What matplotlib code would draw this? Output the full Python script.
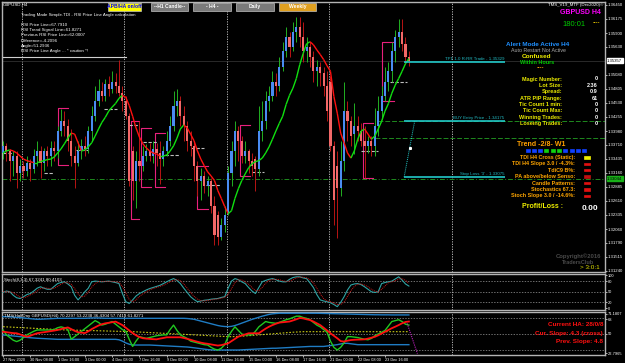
import numpy as np
import matplotlib
matplotlib.use("Agg")
import matplotlib.pyplot as plt
from matplotlib.collections import LineCollection
from matplotlib.patches import Rectangle

plt.rcParams["font.family"] = ["Liberation Sans", "DejaVu Sans"]

# -------------------------
# Data (GBPUSD H4, 27 Nov - 24 Dec 2020)
# -------------------------

opens = [1.3355, 1.3369, 1.3359, 1.3340, 1.3349, 1.3316, 1.3330, 1.3320, 1.3336, 1.3324,
         1.3349, 1.3359, 1.3336, 1.3359, 1.3349, 1.3365, 1.3359, 1.3398, 1.3417, 1.3408,
         1.3379, 1.3349, 1.3336, 1.3359, 1.3369, 1.3363, 1.3398, 1.3427, 1.3456, 1.3476,
         1.3466, 1.3491, 1.3480, 1.3495, 1.3486, 1.3472, 1.3456, 1.3427, 1.3359, 1.3301,
         1.3340, 1.3330, 1.3349, 1.3359, 1.3349, 1.3363, 1.3355, 1.3343, 1.3359, 1.3379,
         1.3408, 1.3447, 1.3456, 1.3427, 1.3408, 1.3379, 1.3369, 1.3330, 1.3301, 1.3310,
         1.3291, 1.3301, 1.3252, 1.3233, 1.3190, 1.3213, 1.3236, 1.3316, 1.3359, 1.3398,
         1.3379, 1.3349, 1.3359, 1.3340, 1.3343, 1.3324, 1.3398, 1.3417, 1.3456, 1.3466,
         1.3495, 1.3486, 1.3524, 1.3554, 1.3583, 1.3563, 1.3592, 1.3602, 1.3583, 1.3554,
         1.3563, 1.3544, 1.3515, 1.3524, 1.3511, 1.3486, 1.3495, 1.3369, 1.3330, 1.3287,
         1.3340, 1.3437, 1.3417, 1.3392, 1.3408, 1.3398, 1.3379, 1.3369, 1.3379, 1.3369,
         1.3408, 1.3437, 1.3466, 1.3495, 1.3515, 1.3554, 1.3583, 1.3592, 1.3569, 1.3544]
highs = [1.3379, 1.3375, 1.3363, 1.3359, 1.3359, 1.3343, 1.3340, 1.3349, 1.3343, 1.3363,
         1.3379, 1.3369, 1.3365, 1.3369, 1.3379, 1.3379, 1.3408, 1.3441, 1.3437, 1.3421,
         1.3402, 1.3369, 1.3379, 1.3382, 1.3388, 1.3408, 1.3447, 1.3486, 1.3499, 1.3495,
         1.3499, 1.3505, 1.3515, 1.3511, 1.3538, 1.3486, 1.3466, 1.3433, 1.3369, 1.3359,
         1.3417, 1.3369, 1.3373, 1.3375, 1.3379, 1.3375, 1.3379, 1.3369, 1.3398, 1.3427,
         1.3476, 1.3480, 1.3466, 1.3447, 1.3417, 1.3398, 1.3379, 1.3340, 1.3326, 1.3320,
         1.3310, 1.3305, 1.3271, 1.3242, 1.3227, 1.3252, 1.3330, 1.3379, 1.3417, 1.3408,
         1.3388, 1.3379, 1.3363, 1.3355, 1.3349, 1.3447, 1.3456, 1.3476, 1.3486, 1.3515,
         1.3511, 1.3544, 1.3573, 1.3602, 1.3592, 1.3612, 1.3622, 1.3622, 1.3612, 1.3583,
         1.3573, 1.3554, 1.3538, 1.3534, 1.3524, 1.3515, 1.3505, 1.3379, 1.3359, 1.3379,
         1.3495, 1.3456, 1.3427, 1.3452, 1.3427, 1.3413, 1.3408, 1.3388, 1.3388, 1.3443,
         1.3466, 1.3486, 1.3524, 1.3534, 1.3573, 1.3596, 1.3618, 1.3618, 1.3583, 1.3554]
lows = [1.3343, 1.3340, 1.3301, 1.3310, 1.3287, 1.3301, 1.3305, 1.3310, 1.3301, 1.3316,
        1.3330, 1.3305, 1.3320, 1.3330, 1.3330, 1.3340, 1.3345, 1.3388, 1.3388, 1.3359,
        1.3330, 1.3287, 1.3330, 1.3343, 1.3349, 1.3355, 1.3379, 1.3417, 1.3447, 1.3456,
        1.3456, 1.3466, 1.3472, 1.3472, 1.3466, 1.3437, 1.3421, 1.3291, 1.3262, 1.3248,
        1.3301, 1.3320, 1.3340, 1.3340, 1.3336, 1.3330, 1.3295, 1.3330, 1.3349, 1.3369,
        1.3398, 1.3427, 1.3408, 1.3379, 1.3359, 1.3349, 1.3301, 1.3271, 1.3262, 1.3277,
        1.3271, 1.3238, 1.3174, 1.3174, 1.3184, 1.3200, 1.3233, 1.3291, 1.3330, 1.3340,
        1.3336, 1.3336, 1.3316, 1.3310, 1.3281, 1.3310, 1.3379, 1.3402, 1.3437, 1.3456,
        1.3466, 1.3476, 1.3515, 1.3544, 1.3544, 1.3554, 1.3573, 1.3563, 1.3534, 1.3534,
        1.3524, 1.3495, 1.3486, 1.3486, 1.3466, 1.3417, 1.3359, 1.3213, 1.3188, 1.3271,
        1.3320, 1.3379, 1.3369, 1.3353, 1.3379, 1.3369, 1.3305, 1.3355, 1.3349, 1.3349,
        1.3388, 1.3421, 1.3456, 1.3476, 1.3495, 1.3534, 1.3563, 1.3554, 1.3530, 1.3526]
closes = [1.3369, 1.3359, 1.3340, 1.3349, 1.3316, 1.3330, 1.3320, 1.3336, 1.3324, 1.3349,
          1.3359, 1.3336, 1.3359, 1.3349, 1.3365, 1.3359, 1.3398, 1.3417, 1.3408, 1.3379,
          1.3349, 1.3336, 1.3359, 1.3369, 1.3363, 1.3398, 1.3427, 1.3456, 1.3476, 1.3466,
          1.3491, 1.3480, 1.3495, 1.3486, 1.3472, 1.3456, 1.3427, 1.3301, 1.3301, 1.3340,
          1.3330, 1.3349, 1.3359, 1.3349, 1.3363, 1.3355, 1.3343, 1.3359, 1.3379, 1.3408,
          1.3447, 1.3456, 1.3427, 1.3408, 1.3379, 1.3369, 1.3330, 1.3301, 1.3310, 1.3291,
          1.3301, 1.3252, 1.3194, 1.3190, 1.3213, 1.3233, 1.3316, 1.3359, 1.3398, 1.3379,
          1.3349, 1.3359, 1.3340, 1.3330, 1.3324, 1.3398, 1.3417, 1.3456, 1.3466, 1.3495,
          1.3486, 1.3524, 1.3554, 1.3583, 1.3563, 1.3592, 1.3602, 1.3583, 1.3554, 1.3563,
          1.3544, 1.3515, 1.3524, 1.3511, 1.3486, 1.3437, 1.3369, 1.3262, 1.3287, 1.3340,
          1.3437, 1.3417, 1.3388, 1.3408, 1.3398, 1.3379, 1.3369, 1.3379, 1.3369, 1.3408,
          1.3437, 1.3466, 1.3495, 1.3515, 1.3554, 1.3583, 1.3592, 1.3569, 1.3544, 1.3536]

# trend line (green up / red down)
trend_line = [1.3355, 1.3359, 1.3361, 1.3359, 1.3355, 1.3349, 1.3343, 1.3340, 1.3338, 1.3336,
              1.3336, 1.3338, 1.3340, 1.3342, 1.3343, 1.3347, 1.3355, 1.3363, 1.3373, 1.3384,
              1.3394, 1.3392, 1.3375, 1.3359, 1.3361, 1.3367, 1.3375, 1.3388, 1.3402, 1.3415,
              1.3425, 1.3437, 1.3445, 1.3452, 1.3462, 1.3468, 1.3464, 1.3448, 1.3427, 1.3404,
              1.3386, 1.3373, 1.3365, 1.3359, 1.3355, 1.3353, 1.3349, 1.3349, 1.3351, 1.3359,
              1.3369, 1.3384, 1.3402, 1.3410, 1.3404, 1.3392, 1.3379, 1.3359, 1.3343, 1.3330,
              1.3318, 1.3310, 1.3301, 1.3281, 1.3266, 1.3250, 1.3236, 1.3242, 1.3266, 1.3285,
              1.3301, 1.3314, 1.3326, 1.3334, 1.3338, 1.3340, 1.3345, 1.3355, 1.3367, 1.3382,
              1.3398, 1.3413, 1.3427, 1.3450, 1.3468, 1.3482, 1.3501, 1.3528, 1.3550, 1.3569,
              1.3573, 1.3567, 1.3557, 1.3548, 1.3538, 1.3526, 1.3515, 1.3466, 1.3433, 1.3394,
              1.3375, 1.3355, 1.3345, 1.3359, 1.3382, 1.3398, 1.3402, 1.3392, 1.3382, 1.3388,
              1.3402, 1.3417, 1.3437, 1.3452, 1.3472, 1.3488, 1.3501, 1.3515, 1.3530, 1.3540]

stoch_main = [48, 52, 50, 40, 33, 31, 36, 42, 45, 52, 60, 64, 60, 57, 57, 65, 73, 76, 78, 72,
              64, 40, 27, 38, 50, 60, 78, 80, 79, 78, 79, 80, 78, 76, 73, 45, 22, 17, 27, 38,
              45, 50, 55, 59, 62, 65, 68, 73, 78, 83, 87, 82, 73, 60, 48, 36, 28, 22, 24, 26,
              27, 29, 30, 31, 34, 36, 60, 80, 87, 84, 78, 73, 62, 52, 45, 62, 78, 82, 85, 87,
              84, 80, 78, 78, 85, 90, 92, 92, 89, 87, 75, 62, 42, 27, 24, 22, 19, 14, 8, 20,
              36, 55, 69, 72, 73, 70, 64, 57, 50, 48, 50, 73, 76, 78, 80, 86, 92, 83, 72, 66]
stoch_signal = [50, 50, 50, 47, 41, 35, 33, 36, 41, 46, 52, 59, 61, 60, 58, 60, 65, 71, 76, 75,
                71, 59, 44, 35, 38, 49, 63, 73, 79, 79, 79, 79, 79, 78, 76, 65, 47, 28, 22, 27,
                37, 44, 50, 55, 59, 62, 65, 68, 73, 78, 83, 84, 81, 72, 60, 48, 37, 29, 25, 24,
                26, 27, 29, 30, 32, 34, 43, 59, 76, 84, 83, 78, 71, 62, 53, 53, 62, 74, 82, 85,
                85, 84, 81, 79, 80, 84, 89, 91, 91, 89, 84, 75, 60, 44, 31, 24, 22, 18, 14, 14,
                21, 37, 53, 65, 71, 72, 69, 64, 57, 52, 49, 57, 66, 76, 78, 81, 86, 87, 82, 74]

tdi_upper = [69.5, 69.4, 69.2, 69.0, 68.7, 68.4, 68.0, 67.6, 67.2, 66.8,
             66.5, 66.6, 66.8, 67.0, 67.2, 67.4, 67.6, 67.6, 67.6, 67.6,
             67.6, 67.6, 67.6, 67.6, 67.6, 67.8, 68.0, 68.0, 68.0, 67.8,
             67.6, 67.6, 67.6, 67.6, 67.6, 67.6, 67.6, 67.6, 67.6, 67.6,
             67.6, 67.6, 67.6, 67.6, 67.6, 67.6, 67.6, 67.6, 67.6, 67.6,
             67.6, 67.6, 67.6, 67.6, 67.4, 67.0, 66.5, 65.5, 64.5, 63.5,
             62.5, 61.5, 60.5, 59.5, 58.8, 58.4, 58.2, 58.6, 59.5, 60.8,
             62.2, 63.6, 65.0, 66.4, 67.6, 68.8, 70.0, 71.0, 72.0, 72.6,
             73.0, 73.3, 73.3, 73.3, 73.3, 73.3, 73.3, 73.3, 73.3, 73.3,
             73.3, 73.3, 73.3, 73.2, 73.1, 73.0, 72.9, 72.8, 72.7, 72.6,
             72.5, 72.4, 72.3, 72.2, 72.1, 72.0, 71.9, 71.8, 71.7, 71.6,
             71.6, 71.5, 71.5, 71.5, 71.4, 71.4, 71.4, 71.4, 71.4, 71.4]
tdi_lower = [48.9, 48.6, 48.2, 47.8, 47.4, 47.0, 46.6, 46.2, 45.8, 45.5,
             45.2, 45.0, 44.8, 44.6, 44.4, 44.2, 44.0, 44.0, 44.0, 44.0,
             44.0, 44.0, 44.0, 44.0, 44.0, 44.0, 44.0, 44.0, 44.0, 44.0,
             44.0, 44.0, 44.0, 44.0, 43.5, 42.0, 40.0, 38.5, 37.6, 37.6,
             37.6, 37.6, 37.6, 37.6, 37.4, 37.2, 37.0, 36.8, 36.6, 36.4,
             36.2, 36.0, 35.8, 35.6, 35.4, 35.0, 34.5, 34.0, 33.5, 33.0,
             32.5, 32.2, 32.0, 32.0, 32.0, 32.0, 32.0, 32.0, 32.0, 32.0,
             32.2, 32.4, 32.6, 32.8, 33.0, 33.2, 33.4, 33.6, 33.8, 34.0,
             34.0, 34.2, 34.4, 34.6, 34.8, 35.0, 35.2, 35.4, 35.6, 35.8,
             36.0, 36.0, 36.0, 36.0, 36.0, 36.5, 37.0, 37.5, 38.0, 38.8,
             39.5, 39.5, 39.0, 38.5, 38.0, 38.0, 38.0, 38.0, 38.0, 38.0,
             38.0, 38.0, 38.0, 38.0, 38.0, 38.0, 38.0, 38.0, 38.0, 38.0]
tdi_mid = [58.2, 58.0, 57.8, 57.6, 57.4, 57.2, 57.0, 56.8, 56.6, 56.4,
           56.2, 56.0, 55.8, 55.6, 55.4, 55.2, 55.0, 54.8, 54.6, 54.5,
           54.4, 54.3, 54.2, 54.1, 54.0, 53.9, 53.8, 53.7, 53.6, 53.5,
           53.4, 53.3, 53.2, 53.1, 53.0, 52.9, 52.8, 52.7, 52.6, 52.4,
           52.2, 52.0, 51.8, 51.6, 51.4, 51.2, 51.0, 50.8, 50.6, 50.4,
           50.2, 50.0, 49.8, 49.6, 49.4, 49.2, 49.0, 48.8, 48.6, 48.4,
           48.2, 48.0, 47.8, 47.6, 47.4, 47.2, 47.0, 47.0, 47.1, 47.3,
           47.5, 47.8, 48.1, 48.4, 48.7, 49.0, 49.3, 49.6, 49.9, 50.2,
           50.5, 50.8, 51.1, 51.4, 51.7, 52.0, 52.2, 52.4, 52.6, 52.6,
           52.6, 52.6, 52.6, 52.6, 52.6, 52.6, 52.6, 52.6, 52.6, 52.6,
           52.6, 52.6, 52.6, 52.6, 52.6, 52.6, 52.6, 52.6, 52.6, 52.6,
           52.6, 52.6, 52.6, 52.6, 52.6, 52.6, 52.6, 52.6, 52.6, 52.6]
tdi_rsi = [54.5, 49, 46, 43, 41.5, 43, 46, 49, 51, 53, 54.5, 54.5, 54.5, 54.5, 54.5, 55, 57, 58, 57, 55,
           44, 47, 50, 53, 56, 59, 62, 65, 63, 60, 61, 62.5, 64, 61, 58, 55, 53, 44, 36, 42,
           47, 46, 45, 46, 47, 48, 48.5, 49, 49, 55, 60, 54, 49, 47, 45, 42, 41, 40, 39, 38,
           37.6, 35, 33, 32, 34, 38, 47, 53, 58, 54, 50, 49, 49, 49, 53, 58, 61, 64, 63, 62.5,
           62, 63, 64.5, 66, 67, 68.5, 70, 70, 68.5, 67.6, 66, 63, 60, 58, 55, 52, 42, 35, 32, 35,
           40, 47, 47, 46.5, 46, 45, 44, 43.5, 45, 48, 50, 52, 54, 59, 64, 65, 66, 64, 61, 60]
tdi_signal = [52.6, 52, 51.5, 51, 50.8, 49.5, 48, 47, 48, 49.5, 50.8, 51.5, 52, 52.6, 53.2, 53.8, 54.5, 55.5, 56.5, 57.4,
              55.5, 53.5, 52, 51.5, 51, 53, 55.5, 57.5, 59.5, 61, 62, 62.6, 63.2, 63.9, 62, 60, 57, 54, 51, 48.5,
              46.5, 45.2, 44.8, 44.5, 44.2, 44, 44.8, 45.5, 46.3, 46.3, 46.3, 46.3, 46.3, 45.5, 44.5, 43.5, 42.3, 41.3, 40.3, 39.5,
              39, 38.3, 37.6, 37, 37.5, 38.5, 39.5, 42, 44.5, 47, 48.3, 49.5, 50.8, 50.8, 50.8, 50.8, 53.5, 56, 58.2, 60,
              61.5, 62.8, 63.2, 63.6, 64, 65.2, 66.5, 68, 67.5, 66.5, 65.7, 64, 62, 60, 57, 54, 50.8, 48, 45.2, 42,
              41.5, 42.5, 43.2, 43.5, 43.7, 43.8, 44, 44.8, 45.8, 46.8, 48.5, 50.5, 52.5, 54.5, 56.5, 58.2, 60, 62, 63.5, 64]

price_ticks = [1.36450, 1.36175, 1.35900, 1.35630, 1.35080, 1.34805, 1.34530, 1.34255, 1.33980,
               1.33710, 1.33435, 1.33160, 1.32885, 1.32610, 1.32335, 1.32060, 1.31790, 1.31515, 1.31240]
time_labels = ["27 Nov 2020", "30 Nov 08:00", "1 Dec 16:00", "3 Dec 00:00", "4 Dec 08:00",
               "7 Dec 16:00", "9 Dec 00:00", "10 Dec 08:00", "11 Dec 16:00", "15 Dec 00:00",
               "16 Dec 08:00", "17 Dec 16:00", "21 Dec 00:00", "22 Dec 08:00", "23 Dec 16:00"]
week_starts = [6, 36, 66, 96, 132]

# range brackets: (first bar, last bar, top, bottom)
brackets = [(16, 19, 1.3443, 1.3332), (37.5, 40, 1.3417, 1.3225), (40.5, 43.5, 1.3404, 1.3289),
            (44.5, 47.5, 1.3394, 1.3289), (57, 60, 1.3330, 1.3246), (69.5, 72.5, 1.3410, 1.3310),
            (105.5, 108.5, 1.3413, 1.3305), (111, 114.5, 1.3573, 1.3456)]
# short grey marks: (first bar, last bar, price)
grey_marks = [(0, 3, 1.3355), (12, 15, 1.3316), (21.5, 25, 1.3361), (29.5, 33.5, 1.3441),
              (37, 40, 1.3410), (41, 45, 1.3377), (47.5, 51.5, 1.3351), (55, 59, 1.3365),
              (59.5, 63.5, 1.3292), (73, 76.5, 1.3318), (113.5, 118.5, 1.3495), (105, 110, 1.3359)]

tp_price, entry_price, stop_price = 1.35329, 1.34175, 1.33075
last_price, stop_mark = 1.35357, 1.33044

# -------------------------
# Layout helpers
# -------------------------

W, H = 625, 363
BG = "#000000"
GRID = "#b4b4b4"
TICK = 3.1


def fx(px):
    return px / W


def fy(py):
    return 1 - py / H


fig = plt.figure(figsize=(6.25, 3.63), dpi=100, facecolor=BG)
ax = fig.add_axes([fx(2), fy(272), 603 / W, 270 / H])
ax_st = fig.add_axes([fx(2), fy(309.5), 603 / W, 35.5 / H])
ax_tdi = fig.add_axes([fx(2), fy(355), 603 / W, 43 / H])

xmin, xmax = -0.3, 176.5
for a in (ax, ax_st, ax_tdi):
    a.set_facecolor(BG)
    a.set_xlim(xmin, xmax)
    for s in a.spines.values():
        s.set_color(GRID)
        s.set_linewidth(1.0)
    a.yaxis.tick_right()
    a.tick_params(axis="y", colors="white", labelsize=TICK, length=1.5, width=0.5, pad=0.6)
    a.tick_params(axis="x", colors="white", labelsize=TICK, length=1.5, width=0.5, pad=0.6)
    a.set_xticks([])
    for w in week_starts:
        a.axvline(w - 0.45, color="#c8c8c8", lw=0.6, ls=(0, (1.5, 1.5)), zorder=1)

# -------------------------
# Price panel
# -------------------------

o, h, l, c = map(np.array, (opens, highs, lows, closes))
idx = np.arange(len(c))
bull = c >= o
ax.vlines(idx[bull], l[bull], h[bull], color="#22b022", lw=0.7, zorder=3)
ax.vlines(idx[~bull], l[~bull], h[~bull], color="#b81414", lw=0.7, zorder=3)
ax.bar(idx[bull], (c - o)[bull], bottom=o[bull], width=0.62, color="#4a8cf2", zorder=4)
ax.bar(idx[~bull], (c - o)[~bull], bottom=o[~bull], width=0.62, color="#f26868", zorder=4)

tl = np.array(trend_line)
segs = [[(i - 1, tl[i - 1]), (i, tl[i])] for i in range(1, len(tl))]
cols = ["#10e010" if tl[i] >= tl[i - 1] else "#ff1010" for i in range(1, len(tl))]
ax.add_collection(LineCollection(segs, colors=cols, linewidths=1.0, zorder=5))

for b0, b1, top, bot in brackets:
    ax.plot([b1, b0, b0, b1], [top, top, bot, bot], color="#e8207c", lw=0.8, zorder=2)
for b0, b1, p in grey_marks:
    ax.hlines(p, b0, b1, color="#bdbdbd", lw=0.8, ls=(0, (3, 1.5)), zorder=2)

# horizontal levels
ax.axhline(last_price, color="#3a3a3a", lw=0.5, zorder=1)
ax.axhline(stop_mark, color="#1e8a1e", lw=0.7, ls=(0, (5, 2, 1, 2)), zorder=1)
ax.hlines(1.3385, 109, xmax, color="#1e8a1e", lw=0.7, ls=(0, (5, 2)), zorder=1)
ax.hlines(entry_price, 110, xmax, color="#1e8a1e", lw=0.7, ls=(0, (5, 2)), zorder=1)

# trade lines
for p, txt in [(tp_price, "TP1 1.0 R:RR Trade - 1.35329"),
               (entry_price, "BUY Entry Price - 1.34175"),
               (stop_price, "Stop Loss '3' - 1.33075")]:
    ax.hlines(p, 117.6, 147.2, color="#22c8c8", lw=1.2, zorder=6)
    ax.text(147.0, p + 0.0003, txt, color="#22b8c0", fontsize=3.2, ha="right", va="bottom", zorder=7)
ax.plot([117.6, 120.7], [stop_price, entry_price], color="#22c8c8", lw=0.7, ls=(0, (1, 1)), zorder=6)
ax.plot([119.2], [1.3365], marker="s", ms=1.2, color="white", zorder=7)

ax.set_ylim(1.31218, 1.36508)
ax.set_yticks(price_ticks)
ax.set_yticklabels([f"{p:.5f}" for p in price_ticks])
for p, fc in [(last_price, "white"), (stop_mark, "#18b018")]:
    ax.text(1.0035, (p - 1.31218) / (1.36508 - 1.31218), f"{p:.5f}",
            transform=ax.transAxes, fontsize=TICK, color="black", va="center", ha="left",
            bbox=dict(boxstyle="square,pad=0.12", fc=fc, ec=fc), zorder=8)

# -------------------------
# Stochastic panel
# -------------------------

ax_st.plot(idx, stoch_main, color="#2ea4a4", lw=0.8, zorder=3)
ax_st.plot(idx, stoch_signal, color="#d01818", lw=0.7, ls=(0, (1, 1)), zorder=3)
for lv in (80, 50, 20):
    ax_st.axhline(lv, color="#9a9a9a", lw=0.5, ls=(0, (2, 2)), zorder=1)
ax_st.set_ylim(0, 100)
ax_st.set_yticks([96, 80, 50, 20, 4])
ax_st.set_yticklabels(["100", "80", "50", "20", "0"])
ax_st.tick_params(axis="y", labelsize=2.9)
ax_st.text(0.004, 0.9, "Stoch(8,3,3) 67.3241 80.4103", transform=ax_st.transAxes,
           color="white", fontsize=3.2, va="top")

# -------------------------
# TDI panel
# -------------------------

ax_tdi.plot(idx, tdi_upper, color="#1f7cc4", lw=1.0, zorder=3)
ax_tdi.plot(idx, tdi_lower, color="#1f7cc4", lw=1.0, zorder=3)
ax_tdi.plot(idx, tdi_mid, color="#c8c814", lw=0.8, ls=(0, (1.5, 1.5)), zorder=3)
ax_tdi.plot(idx, tdi_rsi, color="#20c820", lw=1.0, zorder=4)
ax_tdi.plot(idx, tdi_signal, color="#ff1010", lw=1.3, zorder=5)
ax_tdi.plot([118.5, 121.5], [61.8, 28.0], color="#c020c0", lw=0.8, ls=(0, (1, 1)), zorder=5)
for lv in (68, 50, 32):
    ax_tdi.axhline(lv, color="#9a9a9a", lw=0.5, ls=(0, (2, 2)), zorder=1)
ax_tdi.set_ylim(26.4, 74.7)
ax_tdi.set_yticks([72.8, 66.5, 50, 28.6])
ax_tdi.set_yticklabels(["71.1807", "68", "50", "22.7965"])
ax_tdi.tick_params(axis="y", labelsize=2.9)
ax_tdi.text(0.004, 0.96, "TMS(HalfDay GBPUSD(H4) 70.2297 53.2238 36.4304 57.7413 61.8271",
            transform=ax_tdi.transAxes, color="white", fontsize=3.2, va="top")
ax_tdi.set_xticks(np.arange(0, 8 * len(time_labels), 8))
ax_tdi.set_xticklabels(time_labels, ha="left")
ax_tdi.tick_params(axis="x", labelsize=2.8)

# -------------------------
# Overlay texts
# -------------------------


def ftext(x, y, s, color="white", size=4, ha="left", weight="normal"):
    fig.text(fx(x), fy(y), s, color=color, fontsize=size, ha=ha, va="center", fontweight=weight)


def fbox(x0, y0, x1, y1, fc, ec=None):
    fig.patches.append(Rectangle((fx(x0), fy(y1)), (x1 - x0) / W, (y1 - y0) / H,
                                 transform=fig.transFigure, facecolor=fc,
                                 edgecolor=ec if ec else fc, lw=0.5))


ftext(3, 4.5, "GBPUSD,H4", size=3.2)
buttons = [(108, 141, "APB/HA on/off", "#ffff00", "#0000ff"),
           (151, 188, "--H1 Candle--", "#7a7a7a", "white"),
           (193, 231, "- H4 -", "#7a7a7a", "white"),
           (236, 274, "Daily", "#7a7a7a", "white"),
           (279, 316, "Weekly", "#e0a020", "white")]
for x0, x1, s, fc, tc in buttons:
    fbox(x0, 2.5, x1, 10.5, fc, "#c0c0c0")
    ftext((x0 + x1) / 2, 6.5, s, color=tc, size=3.6, ha="center", weight="bold")

info = [(15, "Trading Made Simple.TDI - RSI Price Line Angle calculation"),
        (25, "RSI Price Line=67.7910"), (30, "RSI Trend Signal Line=61.8271"),
        (35, "Previous RSI Price Line=62.0007"), (40.5, "Difference=-4.2096"),
        (46, "Angle=51.2936"), (51, "RSI Price Line Angle ... * caution *!")]
for y, s in info:
    ftext(21, y, s, size=3.2)
fig.add_artist(plt.Line2D([fx(3), fx(126)], [fy(57), fy(57)], color="#d0d0d0", lw=0.8))

ftext(603, 5, "TMS_V19_MTF (Dec2020)\u00a9", size=3.2, ha="right")
ftext(601, 12.5, "GBPUSD H4", color="#ff00ff", size=5, ha="right", weight="bold")
ftext(574, 24, "180:01", color="#00c800", size=5.5, ha="center")
ftext(597, 23, "----", color="#e0c000", size=4, ha="center", weight="bold")
ftext(538, 44, "Alert Mode Active H4", color="#2090ff", size=4.6, ha="center", weight="bold")
ftext(538, 50, "Auto Restart Not Active", color="#a8a8a8", size=3.8, ha="center")
ftext(537, 56.5, "Confused", color="#f0f000", size=4.6, ha="center", weight="bold")
ftext(537, 62.5, "Within Hours", color="#00c800", size=4, ha="center", weight="bold")
ftext(541, 68, "----", color="#f0a000", size=4, ha="center", weight="bold")

labels = ["Magic Number:", "Lot Size:", "Spread:", "ATR PIP Range:", "Tic Count 1 min:",
          "Tic Count Max:", "Winning Trades:", "Loseing Trades:"]
values = ["0", "2.36", "0.9", "61", "0", "0", "0", "0"]
for k, (lab, val) in enumerate(zip(labels, values)):
    y = 79 + k * 6.4
    ftext(562, y, lab, color="#e8e800", size=4, ha="right", weight="bold")
    ftext(598, y, val, color="white", size=4, ha="right", weight="bold")

ftext(541, 144, "Trend -2/8- W1", color="#ffa000", size=5, ha="center", weight="bold")
square_cols = ["#1040ff", "#1040ff", "#1040ff", "#10d010", "#10d010", "#10d010",
               "#1040ff", "#1040ff", "#1040ff", "#1040ff"]
for k, col in enumerate(square_cols):
    fbox(525.5 + k * 6.3, 149, 529.5 + k * 6.3, 151.5, col)

rows = [("TDI H4 Cross (Static):", "#f0f000"), ("TDI H4 Slope 3.0 / -4.3%:", "#e01010"),
        ("TdiC9 B%:", "#e01010"), ("PA above/below Senso:", "#c01010"),
        ("Candle Patterns:", "#e01010"), ("Stochastics 67.3:", "#e01010"),
        ("Stoch Slope 3.0 / -14.6%:", "#e01010")]
for k, (lab, col) in enumerate(rows):
    y = 157.5 + k * 6.4
    ftext(575, y, lab, color="#ffa500", size=3.9, ha="right", weight="bold")
    fbox(584, y - 1.2, 590, y + 1.2, col)

ftext(543, 207, "Profit/Loss :", color="#f0f000", size=5, ha="center", weight="bold")
ftext(598, 208, "0.00", color="white", size=6, ha="right", weight="bold")
ftext(578, 256, "Copyright\u00a92016", color="#4a4a4a", size=4.2, ha="center", weight="bold")
ftext(578, 262, "TradersClub", color="#4a4a4a", size=4, ha="center", weight="bold")
ftext(600, 267.5, "> 3:0:1", color="#e0e000", size=4.6, ha="right")

ftext(603, 324, "Current HA: 28/0/8", color="#ff1010", size=4.6, ha="right", weight="bold")
ftext(603, 333, "Cur. Slope: 4.3 (cross)", color="#ff1010", size=4.6, ha="right", weight="bold")
ftext(603, 342, "Prev. Slope: 4.8", color="#ff1010", size=4.6, ha="right", weight="bold")

fig.savefig("out.png", dpi=100, facecolor=BG)
